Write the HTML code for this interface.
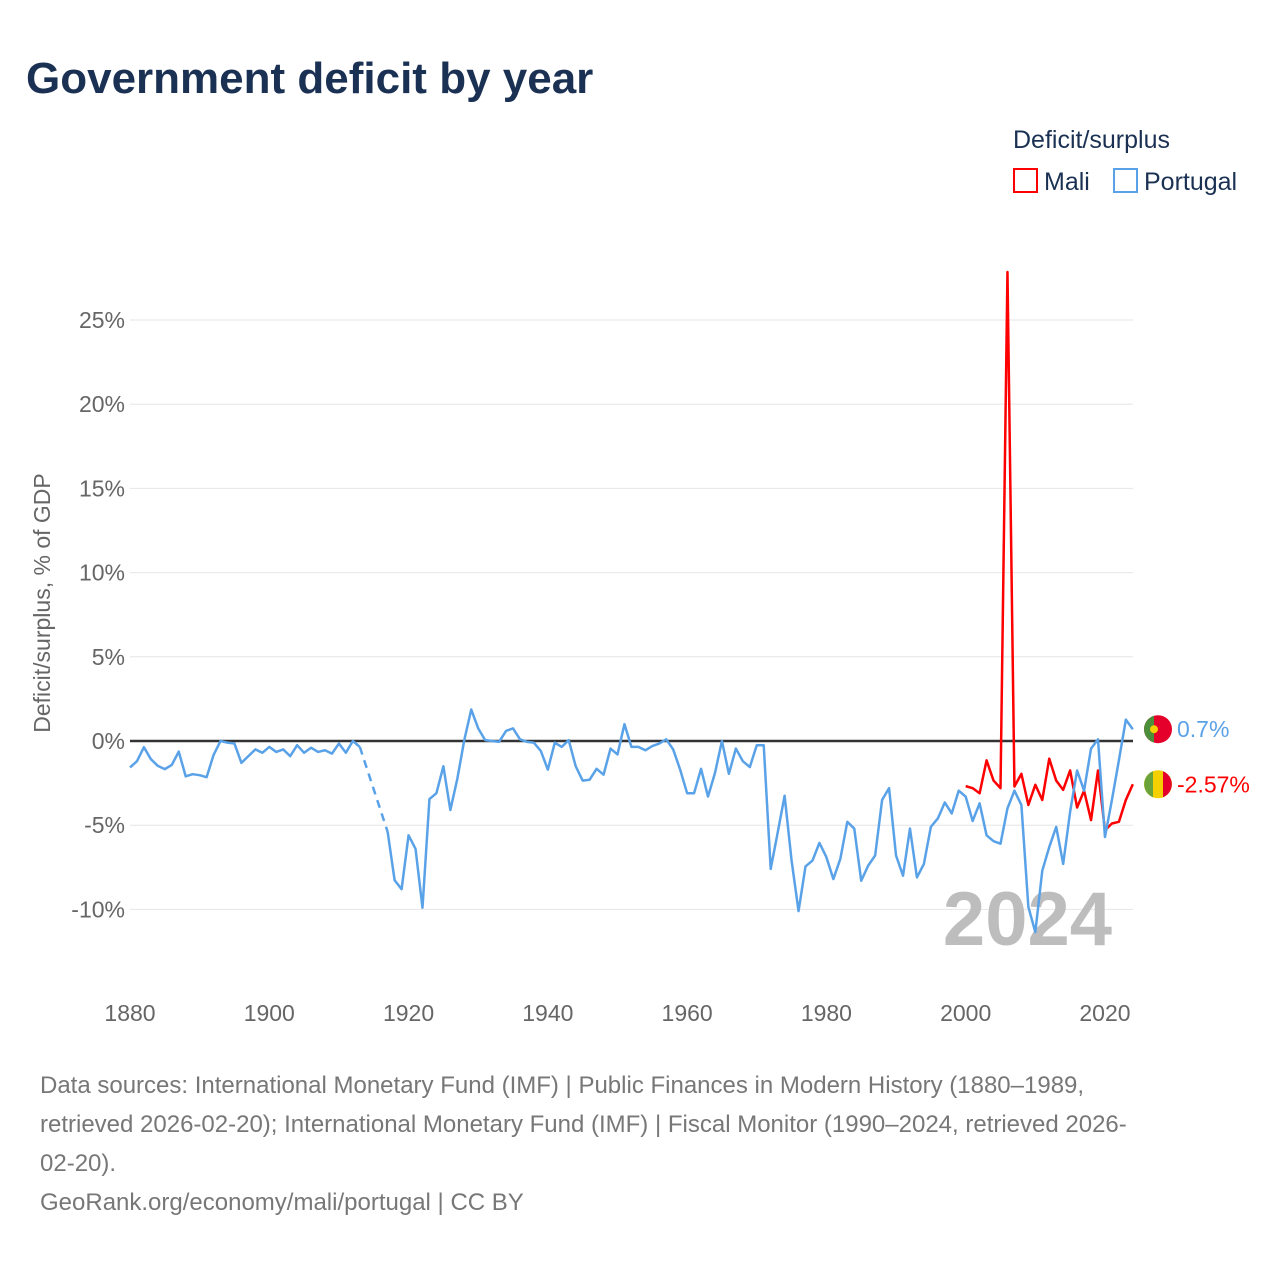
<!DOCTYPE html>
<html><head><meta charset="utf-8">
<style>
body{margin:0;background:#fff;font-family:"Liberation Sans",sans-serif;}
#wrap{position:relative;width:1280px;height:1280px;overflow:hidden;}
</style></head>
<body>
<div id="wrap">
<svg id="chart" width="1280" height="1280" xmlns="http://www.w3.org/2000/svg">
<text x="26" y="93" font-size="44" font-weight="bold" fill="#1b3153" font-family="Liberation Sans, sans-serif">Government deficit by year</text>
<text x="1013" y="148" font-size="25" fill="#1b3153">Deficit/surplus</text>
<g><rect x="1014" y="169" width="23" height="23" fill="none" stroke="#f00" stroke-width="2"/><text x="1044" y="190" font-size="25" fill="#1b3153">Mali</text></g>
<g><rect x="1114" y="169" width="23" height="23" fill="none" stroke="#5aa2e8" stroke-width="2"/><text x="1144" y="190" font-size="25" fill="#1b3153">Portugal</text></g>
<text transform="translate(50,603) rotate(-90)" text-anchor="middle" font-size="23" fill="#666">Deficit/surplus, % of GDP</text>
<g id="grid"></g><g id="yticks"></g><g id="xticks"></g>
<text x="1112" y="945" text-anchor="end" font-size="76" font-weight="bold" fill="#bdbdbd">2024</text>
<g id="series"></g>
<text x="40" y="1093" font-size="24" fill="#777">Data sources: International Monetary Fund (IMF) | Public Finances in Modern History (1880–1989,</text>
<text x="40" y="1132" font-size="24" fill="#777">retrieved 2026-02-20); International Monetary Fund (IMF) | Fiscal Monitor (1990–2024, retrieved 2026-</text>
<text x="40" y="1171" font-size="24" fill="#777">02-20).</text>
<text x="40" y="1210" font-size="24" fill="#777">GeoRank.org/economy/mali/portugal | CC BY</text>
</svg>
</div>
<script>
const yTicks=[25,20,15,10,5,0,-5,-10];
const xTicks=[1880,1900,1920,1940,1960,1980,2000,2020];
const portugalYears=[];for(let y=1880;y<=2024;y++)portugalYears.push(y);
const portugalValues=[-1.57,-1.2,-0.37,-1.08,-1.48,-1.67,-1.42,-0.63,-2.1,-1.97,-2.03,-2.15,-0.83,0,-0.1,-0.15,-1.3,-0.9,-0.5,-0.7,-0.35,-0.65,-0.5,-0.9,-0.25,-0.7,-0.4,-0.65,-0.55,-0.75,-0.15,-0.7,0,-0.35,null,null,null,-5.4,-8.27,-8.8,-5.6,-6.4,-9.9,-3.45,-3.1,-1.5,-4.1,-2.25,0.05,1.87,0.75,0.05,0,-0.05,0.6,0.75,0.1,-0.05,-0.1,-0.6,-1.7,-0.1,-0.35,0.05,-1.5,-2.35,-2.3,-1.65,-2.0,-0.45,-0.8,1.0,-0.35,-0.35,-0.55,-0.3,-0.15,0.1,-0.5,-1.7,-3.1,-3.1,-1.65,-3.3,-1.9,0,-1.95,-0.45,-1.2,-1.55,-0.25,-0.25,-7.6,-5.45,-3.25,-7.1,-10.1,-7.45,-7.1,-6.05,-6.9,-8.2,-7.0,-4.8,-5.2,-8.3,-7.4,-6.8,-3.5,-2.8,-6.8,-8.0,-5.2,-8.1,-7.3,-5.1,-4.6,-3.65,-4.3,-2.95,-3.3,-4.75,-3.7,-5.6,-5.95,-6.1,-4.0,-2.95,-3.8,-9.85,-11.35,-7.7,-6.3,-5.1,-7.3,-4.2,-1.75,-2.95,-0.45,0.1,-5.7,-3.5,-1.15,1.27,0.7];
const maliYears=[];for(let y=2000;y<=2024;y++)maliYears.push(y);
const maliValues=[-2.68,-2.8,-3.1,-1.15,-2.35,-2.8,27.85,-2.7,-1.95,-3.8,-2.6,-3.5,-1.05,-2.35,-2.9,-1.75,-3.95,-2.95,-4.7,-1.75,-5.3,-4.9,-4.8,-3.5,-2.57];
const NS='http://www.w3.org/2000/svg';
const X=y=>130+(y-1880)*6.964;
const Y=v=>741-v*16.84;
function mk(tag,attrs,parent){const e=document.createElementNS(NS,tag);for(const k in attrs)e.setAttribute(k,attrs[k]);parent.appendChild(e);return e;}
const grid=document.getElementById('grid'),yt=document.getElementById('yticks'),xt=document.getElementById('xticks'),ser=document.getElementById('series');
yTicks.forEach(t=>{
  if(t!==0){const g=mk('line',{x1:130,x2:1133,y1:Y(t),y2:Y(t),stroke:'#e6e6e6','stroke-width':1},grid);
  
  }
  const l=mk('text',{x:125,y:Y(t)+8,'text-anchor':'end','font-size':23,fill:'#666'},yt);
  l.textContent=t+'%';
  
  
});
xTicks.forEach(t=>{
  const l=mk('text',{x:X(t),y:1021,'text-anchor':'middle','font-size':23,fill:'#666'},xt);
  l.textContent=t;
  
  
});
const zl=mk('line',{x1:130,x2:1133,y1:Y(0),y2:Y(0),stroke:'#333','stroke-width':2.5},grid);


function draw(years,vals,color,name){
  let segs=[],cur=[],gaps=[],last=null;
  years.forEach((y,i)=>{const v=vals[i];
    if(v===null||v===undefined){if(cur.length)segs.push(cur);cur=[];return;}
    if(last&&last.i!==i-1)gaps.push([last,{y,v}]);
    cur.push([X(y),Y(v)]);last={y,v,i};});
  if(cur.length)segs.push(cur);
  segs.forEach(s=>{const p=mk('polyline',{points:s.map(q=>q.join(',')).join(' '),fill:'none',stroke:color,'stroke-width':2.5,'stroke-linejoin':'round'},ser);
    
    });
  gaps.forEach(g=>{const p=mk('line',{x1:X(g[0].y),y1:Y(g[0].v),x2:X(g[1].y),y2:Y(g[1].v),stroke:color,'stroke-width':2.5,'stroke-dasharray':'8,6'},ser);
    
    });
}
draw(maliYears,maliValues,'#f00','mali');
draw(portugalYears,portugalValues,'#5aa2e8','portugal');
const pv=portugalValues[portugalValues.length-1],mv=maliValues[maliValues.length-1];
const pf=mk('g',{},ser);
mk('circle',{cx:1158,cy:Y(pv),r:14,fill:'#e4002b'},pf);
mk('path',{d:`M1154 ${Y(pv)-13.4} A14 14 0 0 0 1154 ${Y(pv)+13.4} Z`,fill:'#4c8f3a'},pf);
mk('circle',{cx:1154,cy:Y(pv),r:4,fill:'#f5d000'},pf);
const pl=mk('text',{x:1177,y:Y(pv)+8,'font-size':23,fill:'#5aa2e8'},ser);pl.textContent=pv+'%';


const mf=mk('g',{},ser);
mk('circle',{cx:1158,cy:Y(mv),r:14,fill:'#f5d000'},mf);
mk('path',{d:`M1153 ${Y(mv)-13} A14 14 0 0 0 1153 ${Y(mv)+13} Z`,fill:'#6aa33a'},mf);
mk('path',{d:`M1163 ${Y(mv)-13} A14 14 0 0 1 1163 ${Y(mv)+13} Z`,fill:'#e4002b'},mf);
const ml=mk('text',{x:1177,y:Y(mv)+8,'font-size':23,fill:'#f00'},ser);ml.textContent=mv+'%';


</script>
</body></html>
